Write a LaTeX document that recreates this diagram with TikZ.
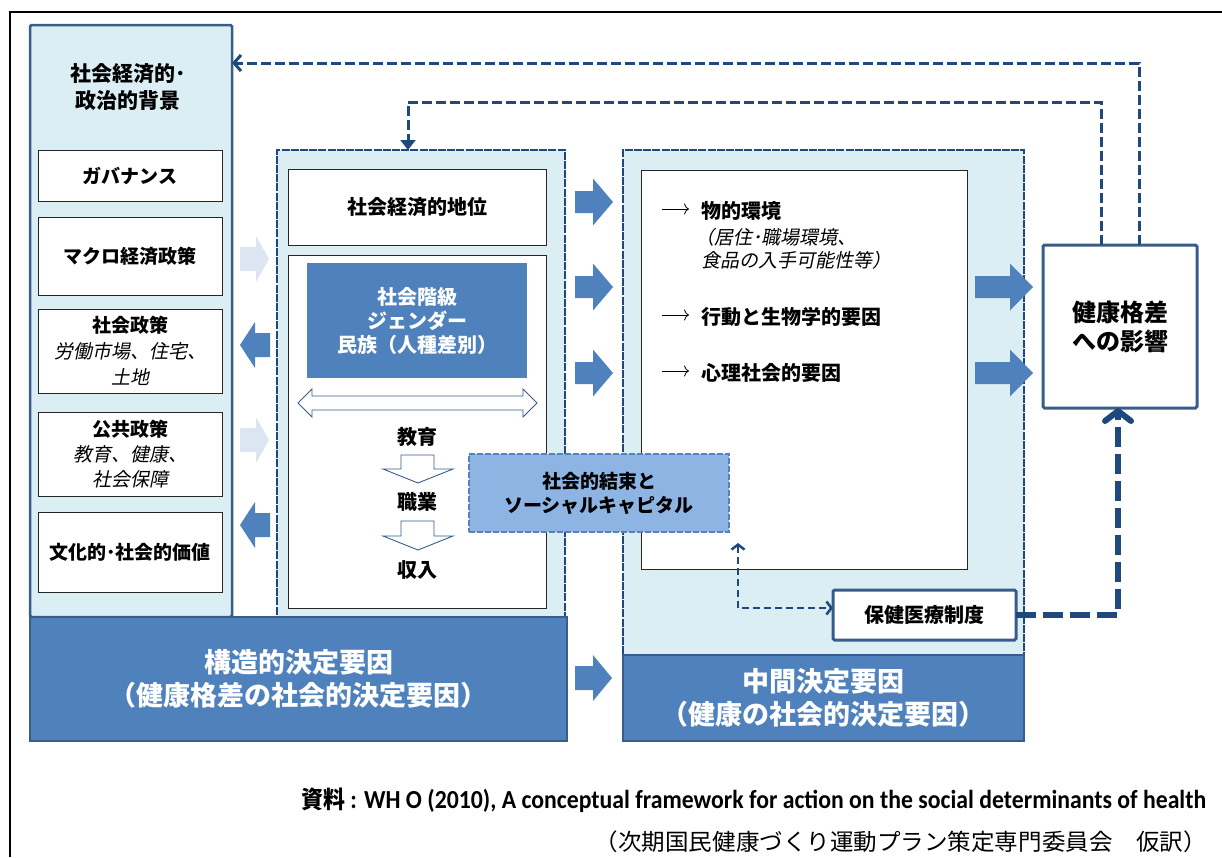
\documentclass[tikz,border=0pt]{standalone}
\usepackage{fontspec}
\usepackage{graphicx}
\setmainfont{Noto Sans CJK JP}[AutoFakeSlant=0.2]
\newfontfamily\carlito{Carlito}
\usetikzlibrary{arrows.meta,calc}
\definecolor{panelfill}{RGB}{219,238,244}
\definecolor{panelborder}{RGB}{56,93,138}
\definecolor{navy}{RGB}{31,73,125}
\definecolor{accent}{RGB}{79,129,189}
\definecolor{lightarrow}{RGB}{220,230,242}
\definecolor{cohfill}{RGB}{141,180,226}
\definecolor{cohborder}{RGB}{84,130,190}
\newcommand\fsz[2]{\fontsize{#1pt}{#2pt}\selectfont}
\newcommand\blockarrow[7]{\fill[#7] (#1,#4-#5) -- (#3,#4-#5) -- (#3,#4-#6) -- (#2,#4) -- (#3,#4+#6) -- (#3,#4+#5) -- (#1,#4+#5) -- cycle;}
\begin{document}
\begin{tikzpicture}[x=1pt,y=-1pt,
 panel/.style={draw=panelborder, line width=2.5pt, fill=panelfill, anchor=north west, inner sep=0pt, outer sep=0pt, rounded corners=1.5pt},
 dpanel/.style={draw=navy, line width=2.8pt, fill=panelfill, anchor=north west, inner sep=0pt, outer sep=0pt, dash pattern=on 8pt off 1.2pt},
 wbox/.style={draw=black!85, line width=0.8pt, fill=white, anchor=north west, inner sep=0pt, outer sep=0pt, align=center},
 bluebox/.style={draw=panelborder, line width=2pt, fill=accent, anchor=north west, inner sep=0pt, outer sep=0pt, align=center, text=white, font=\fsz{27}{33}\bfseries},
 hbox/.style={draw=panelborder, line width=3pt, fill=white, anchor=north west, inner sep=0pt, outer sep=0pt, align=center, rounded corners=1.5pt},
 fb/.style={draw=navy, line width=3pt, dash pattern=on 10pt off 4pt},
 outl/.style={draw=panelborder, line width=0.9pt, fill=white},
 txt/.style={inner sep=0pt, anchor=west},
 thinarrow/.style={draw=black, line width=0.8pt, -{To[length=5pt,width=11pt]}},
]
\useasboundingbox (0,0) rectangle (1222,857);
\draw[line width=2pt] (10,857) -- (10,12) -- (1222,12);

% panels
\node[panel, minimum width=202pt, minimum height=592pt] (leftp) at (30,25) {};
\node[dpanel, minimum width=288pt, minimum height=467pt] (midp) at (277,150) {};
\node[dpanel, minimum width=401pt, minimum height=505pt] (rightp) at (623,150) {};
\node[bluebox, minimum width=537pt, minimum height=124pt] (struct) at (30,617) {構造的決定要因\\（健康格差の社会的決定要因）};
\node[bluebox, minimum width=401pt, minimum height=86pt] (inter) at (623,655) {中間決定要因\\（健康の社会的決定要因）};

% left column
\node[font=\fsz{21}{27}\bfseries, align=center] (title) at (128,87) {社会経済的･\\政治的背景};
\node[wbox, minimum width=184pt, minimum height=51pt, font=\fsz{19}{24}\bfseries] (gov) at (38,150) {ガバナンス};
\node[wbox, minimum width=184pt, minimum height=78pt, font=\fsz{19}{24}\bfseries] (macro) at (38,217) {マクロ経済政策};
\node[wbox, minimum width=184pt, minimum height=84pt, font=\fsz{19}{26}] (social) at (38,309) {{\bfseries 社会政策}\\{\itshape 労働市場、住宅、}\\{\itshape 土地}};
\node[wbox, minimum width=184pt, minimum height=84pt, font=\fsz{19}{25}] (public) at (38,412) {{\bfseries 公共政策}\\{\itshape 教育、健康、}\\{\itshape 社会保障}};
\node[wbox, minimum width=184pt, minimum height=80pt, font=\fsz{19}{24}\bfseries] (culture) at (38,512) {文化的･社会的価値};

% block arrows
\blockarrow{240}{269}{256}{259}{12}{23}{lightarrow}
\blockarrow{240}{269}{256}{440}{12}{23}{lightarrow}
\blockarrow{270}{240}{255}{345}{12}{23}{accent}
\blockarrow{270}{240}{255}{525}{12}{23}{accent}
\blockarrow{575}{613}{593}{202}{11}{23.5}{accent}
\blockarrow{575}{613}{593}{287}{11}{23.5}{accent}
\blockarrow{575}{613}{593}{373}{11}{23.5}{accent}
\blockarrow{575}{612}{593}{678}{12}{23}{accent}
\blockarrow{975}{1033}{1010}{287}{11}{23.5}{accent}
\blockarrow{975}{1033}{1010}{373}{11}{23.5}{accent}

% middle column
\node[wbox, minimum width=258pt, minimum height=76pt, font=\fsz{20}{24}\bfseries] (ses) at (288,169) {社会経済的地位};
\node[wbox, minimum width=258pt, minimum height=353pt] (mbox) at (288,255) {};
\node[anchor=north west, fill=accent, minimum width=220pt, minimum height=115pt, inner sep=0pt, outer sep=0pt, align=center, text=white, font=\fsz{20}{24}\bfseries] (cls) at (307,263) {社会階級\\ジェンダー\\民族（人種差別）};
\draw[outl] (298,403) -- (312,389) -- (312,396) -- (523,396) -- (523,389) -- (537,403) -- (523,417) -- (523,410) -- (312,410) -- (312,417) -- cycle;
\node[font=\fsz{20}{24}\bfseries] (edu) at (417,437) {教育};
\draw[outl] (401,455) -- (434,455) -- (434,469) -- (453,469) -- (418,483) -- (383,469) -- (401,469) -- cycle;
\node[font=\fsz{20}{24}\bfseries] (job) at (417,502) {職業};
\draw[outl] (401,521) -- (434,521) -- (434,536) -- (453,536) -- (418,550) -- (383,536) -- (401,536) -- cycle;
\node[font=\fsz{20}{24}\bfseries] (inc) at (417,570) {収入};

% right column
\node[wbox, minimum width=326pt, minimum height=399pt] (rbox) at (641,170) {};
\node[txt, font=\fsz{20}{24}\bfseries] (pe) at (701,211) {物的環境};
\node[txt, font=\fsz{19}{23}\itshape] (pe2) at (695,237) {（居住･職場環境、};
\node[txt, font=\fsz{19}{23}\itshape] (pe3) at (701,260) {食品の入手可能性等）};
\node[txt, font=\fsz{20}{24}\bfseries] (bio) at (701,317) {行動と生物学的要因};
\node[txt, font=\fsz{20}{24}\bfseries] (psy) at (701,373) {心理社会的要因};
\coordinate (a1) at (662,209);
\coordinate (a2) at (662,315);
\coordinate (a3) at (662,371);
\draw[thinarrow] (a1) -- ++(27,0);
\draw[thinarrow] (a2) -- ++(27,0);
\draw[thinarrow] (a3) -- ++(27,0);

% social cohesion
\node[anchor=north west, draw=cohborder, fill=cohfill, line width=2.5pt, dash pattern=on 6pt off 2pt, minimum width=260pt, minimum height=78pt, inner sep=0pt, outer sep=0pt, align=center, font=\fsz{19}{24}\bfseries] (coh) at (469,454) {社会的結束と\\ソーシャルキャピタル};

% health system and outcome
\node[hbox, minimum width=183pt, minimum height=50pt, font=\fsz{20}{24}\bfseries] (hc) at (833,590) {保健医療制度};
\node[hbox, minimum width=154pt, minimum height=163pt, font=\fsz{24}{29}\bfseries] (health) at (1043,245) {健康格差\\への影響};

% feedback connectors
\coordinate (f1) at (1139,63);
\coordinate (f2) at (1101,102);
\coordinate (f3) at (408,102);
\draw[fb, -{Straight Barb[length=7pt,width=16pt]}] (f1 |- health.north) -- (f1) -- (f1 -| leftp.east);
\draw[fb, -{Triangle[length=10pt,width=15pt]}] (f2 |- health.north) -- (f2) -- (f3) -- (f3 |- midp.north);
\coordinate (hx) at (1118,615);
\draw[navy, line width=6pt, dash pattern=on 20pt off 7pt, -{Straight Barb[length=10pt,width=26pt,round]}] (hc.east) -- (hx) -- (hx |- health.south);
\coordinate (s1) at (738,543);
\coordinate (s2) at (738,608);
\draw[navy, line width=2.5pt, dash pattern=on 7pt off 4pt, {Straight Barb[length=5pt,width=13pt]}-{Straight Barb[length=5pt,width=13pt]}] (s1) -- (s2) -- (s2 -| hc.west);

% source
\node[anchor=west, inner sep=0pt] (src) at (301,800) {\resizebox{905pt}{\height}{\fsz{24}{28}\bfseries 資料{\carlito\fsz{26}{30}\bfseries\ : WH O (2010), A conceptual framework for action on the social determinants of health}}};
\node[anchor=east, inner sep=0pt] (trans) at (1207,842) {\resizebox{612pt}{\height}{\fsz{23}{28}（次期国民健康づくり運動プラン策定専門委員会　仮訳）}};
\end{tikzpicture}
\end{document}
